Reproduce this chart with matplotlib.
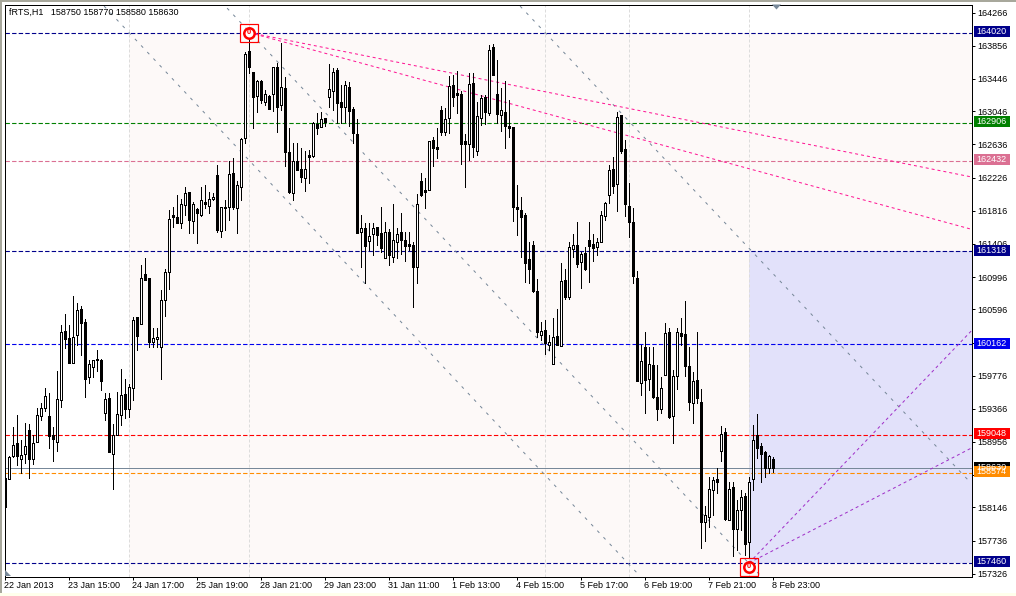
import matplotlib
matplotlib.use("Agg")
import matplotlib.pyplot as plt
from matplotlib.patches import Rectangle, Polygon
from matplotlib.transforms import ScaledTranslation, blended_transform_factory

plt.rcParams["font.family"] = ["Liberation Sans", "DejaVu Sans"]

# RTS H1 candles
opens = [158510,158500,158780,158940,158740,158810,159110,158740,158950,159280,
         159380,159280,159040,158960,159470,160330,160240,159930,160280,160600,
         160440,159760,159880,159980,159970,159320,159500,158810,159040,159290,
         159550,159360,159620,160500,160410,161030,160980,160190,160230,160130,
         160710,161060,161760,161740,161660,161890,162050,161690,161840,161760,
         161920,161870,161960,162260,161560,161860,161860,162280,161850,162110,
         162710,163790,163530,163230,163420,163160,163230,163260,163590,163120,
         163330,162540,162030,162430,162330,162220,162500,162490,162890,162850,
         162960,163220,163300,163560,163160,163100,163350,163070,162760,161550,
         161600,161440,161530,161610,161540,161230,161550,161250,161430,161550,
         161450,161400,161390,161120,162190,162070,162070,162690,162600,163060,
         162790,162960,163370,163270,163260,162680,162640,163390,162550,162960,
         163220,163020,163840,163260,163000,163040,162860,162850,161860,161820,
         161760,161220,161390,160820,160280,160340,160160,159920,160270,160140,
         160960,160750,161340,161390,161180,161290,161460,161400,161370,161430,
         161750,162010,162330,162150,163000,162580,161870,161680,160980,159680,
         160130,159730,159910,159510,159360,159780,160320,159280,159770,160300,
         160290,159890,159440,159720,159450,157960,158030,158360,158500,158850,
         159080,157990,158400,157880,158120,158290,157720,158500,159040,158900,
         158830,158630,158750]
highs = [158580,158780,159140,159290,158980,159190,159180,159040,159380,159440,
         159620,159560,159140,159830,160400,160540,160400,160760,160670,160640,
         160480,159970,159970,160090,159980,159560,159560,159180,159570,159860,
         159730,159670,160500,160500,161140,161230,160980,160360,160360,160830,
         161090,161820,161860,162010,161960,162110,162050,161920,161850,162110,
         162130,162050,162030,162380,161860,161950,162430,162470,162190,162710,
         163780,164010,163530,163430,163430,163310,163250,163600,163640,163890,
         163470,162840,162650,162650,162590,162550,162570,162910,163020,163040,
         162960,163630,163580,163580,163370,163420,163410,163100,162950,161760,
         161660,161660,161660,161610,161860,161680,161590,161900,161600,161790,
         161550,161550,161430,162020,162280,162220,162680,162730,162840,163110,
         163090,163480,163490,163540,163300,162760,163520,163520,163160,163250,
         163250,163860,163880,163680,163330,163420,163180,162850,162130,161980,
         161790,161430,161440,160970,160440,160460,160280,160490,160600,161170,
         161090,161430,161530,161680,161300,161370,161680,161530,161480,161810,
         161920,162380,162480,163040,163000,162690,162160,161850,161070,160160,
         160320,160130,160130,159910,159760,160430,160360,159840,160360,160490,
         160700,160130,159820,160320,159610,158170,158520,158520,158630,159150,
         159130,158460,158460,158240,158360,158320,158520,159170,159300,158940,
         158840,158800,158770]
lows = [158150,158500,158770,158670,158570,158690,158510,158680,158950,159230,
        159340,158880,158720,158840,159390,160120,159930,159930,160160,160030,
        159510,159690,159760,159830,159600,159230,158830,158370,159040,159170,
        159250,159260,159470,160090,160410,160960,160130,160130,160130,159730,
        160510,160850,161610,161660,161600,161760,161540,161540,161420,161750,
        161850,161790,161950,161550,161490,161580,161700,161840,161540,161950,
        162660,163520,162840,163040,163150,163120,163070,163050,162790,163060,
        162370,162030,161950,162320,162170,162060,162160,162480,162760,162850,
        162860,163100,163060,162900,162900,162910,162860,162660,161540,161120,
        160920,161330,161270,161390,161300,161230,161140,161180,161230,161280,
        161190,161330,160620,160920,162000,161850,162070,162370,162470,162750,
        162750,162780,163110,163020,162400,162110,162440,162480,162500,162880,
        162890,163000,163490,162900,162800,162590,162730,161690,161510,161240,
        160930,160920,160810,160250,160220,160050,160090,159920,160160,160140,
        160730,160730,161240,161120,160860,161080,160930,161190,161270,161430,
        161700,161910,162030,161810,162530,161750,161490,160920,159710,159540,
        159310,159600,159500,159230,159320,159780,159250,158940,159610,160160,
        159770,159350,159190,159440,157640,157730,157900,158050,158320,158720,
        157990,157990,157540,157620,157870,157560,157530,158360,158760,158460,
        158520,158570,158580]
closes = [158150,158770,158920,158780,158790,158910,158740,158940,159290,159380,
          159520,159030,158990,159490,160320,160230,159930,160250,160590,160430,
          159730,159920,159970,159970,159710,159490,158830,159040,159300,159540,
          159360,159630,160460,160270,160980,160960,160190,160240,160250,160710,
          161060,161710,161740,161660,161900,162030,161700,161900,161790,161950,
          161900,161960,161980,161580,161860,161850,162270,161860,162130,162700,
          163750,163590,163220,163420,163180,163260,163070,163600,163100,163350,
          162540,162050,162430,162320,162230,162330,162480,162900,162840,162950,
          162910,163320,163530,163150,163100,163370,163050,162780,161540,161600,
          161380,161500,161600,161510,161350,161550,161270,161460,161530,161450,
          161380,161380,161120,161900,162010,162050,162680,162590,162580,162790,
          162950,163360,163220,163250,162640,162640,163380,162600,162990,163210,
          163040,163800,163490,163010,163060,162860,162840,161860,161840,161740,
          161170,161090,160820,160320,160330,160180,160190,160250,160160,160950,
          160750,161370,161390,161160,161280,161090,161380,161350,161430,161760,
          161910,162320,162120,162970,162550,161900,161680,161010,159710,159960,
          159720,159920,159510,159360,159620,160300,159260,159770,160320,160270,
          159890,159450,159710,159500,157960,158050,158370,158480,158460,159060,
          158000,158380,157880,158110,158270,157690,158460,158980,158880,158810,
          158630,158780,158630]

# axis labels
date_ticks = [0, 16, 32, 48, 64, 80, 96, 112, 128, 144, 160, 176, 192]
date_labels = ["22 Jan 2013", "23 Jan 15:00", "24 Jan 17:00", "25 Jan 19:00", "28 Jan 21:00",
               "29 Jan 23:00", "31 Jan 11:00", "1 Feb 13:00", "4 Feb 15:00", "5 Feb 17:00",
               "6 Feb 19:00", "7 Feb 21:00", "8 Feb 23:00"]
price_ticks = [164266, 163856, 163446, 163046, 162636, 162226, 161816, 161406, 160996,
               160596, 160186, 159776, 159366, 158956, 158546, 158146, 157736, 157326]
# these two sit fully behind the price boxes
hidden_prices = [160186, 158546]

# horizontal levels and their colours
levels = [164020, 162906, 162432, 161318, 160162, 159048, 158574, 157460]
level_colors = ["#00008B", "#008000", "#DB7093", "#00008B", "#0000EE", "#FF0000", "#FF8C00", "#00008B"]
last_price = 158630
separators = [31, 61, 135, 156, 186]

# channel and fan lines, (bar, price) at both ends
channel_lines = [((24.75, 164347), (158.75, 157296)),
                 ((55.5, 164322), (188.75, 157308)),
                 ((128.75, 164347), (241.5, 158446))]
pink_fan = [((61, 164020), (241.5, 162235)),
            ((61, 164020), (241.5, 161588))]
purple_fan = [((186, 157460), (241.5, 160327)),
              ((186, 157460), (241.5, 158879))]
marks = [(61, 164020), (186, 157410)]

W, H = 1016, 596
LEFT, RIGHT, TOP, BOTTOM = 4.5, 971.5, 4.5, 576.5
PX = 0.72
YMIN, YMAX = 157292, 164367
XMIN, XMAX = -0.15, 241.6
FS = 6.5

fig = plt.figure(figsize=(W / 100, H / 100), dpi=100, facecolor="white")
ax = fig.add_axes([LEFT / W, 1 - BOTTOM / H, (RIGHT - LEFT) / W, (BOTTOM - TOP) / H])
ax.set_xlim(XMIN, XMAX)
ax.set_ylim(YMIN, YMAX)

# background zones
ax.add_patch(Rectangle((31, YMIN), XMAX - 31, 164020 - YMIN, fc="#FDF9F8", ec="none", zorder=0))
ax.add_patch(Rectangle((186, 157460), XMAX - 186, 161318 - 157460, fc="#E2E1FA", ec="none", zorder=0.1))

for s in separators:
    ax.axvline(s, color="#DCDCDC", lw=PX, dashes=(3, 2), zorder=0.5)
for lv, col in zip(levels, level_colors):
    ax.axhline(lv, color=col, lw=PX * 1.1, dashes=(4, 2), zorder=1)
ax.axhline(last_price, color="#778899", lw=PX, zorder=1)

for a, b in channel_lines:
    ax.plot([a[0], b[0]], [a[1], b[1]], color="#778899", lw=PX, dashes=(3, 6), zorder=1)
for a, b in pink_fan:
    ax.plot([a[0], b[0]], [a[1], b[1]], color="#FF1493", lw=PX, dashes=(3, 3), zorder=1)
for a, b in purple_fan:
    ax.plot([a[0], b[0]], [a[1], b[1]], color="#A030C8", lw=PX, dashes=(3, 3), zorder=1)

# candles
bars = list(range(len(opens)))
ax.vlines(bars, lows, highs, color="black", lw=PX, antialiased=False, zorder=2)
for i in bars:
    o, c = opens[i], closes[i]
    face = "white" if c > o else "black"
    ax.add_patch(Rectangle((i - 0.25, min(o, c)), 0.5, max(abs(c - o), 12), fc=face, ec="black",
                           lw=PX, snap=True, antialiased=False, zorder=3))

# red marks on the two extremes
for mx, my in marks:
    ax.plot(mx, my, marker="s", ms=13, mfc="none", mec="red", mew=PX * 1.2, zorder=4)
    ax.plot(mx, my, marker="o", ms=7.5, mfc="white", mec="red", mew=1.8, zorder=4)
    ax.text(mx, my, "0", color="red", fontsize=5.5, fontweight="bold", ha="center", va="center", zorder=5)

ax.text(4.5 / 966, 1 - 8 / 572, "fRTS,H1   158750 158770 158580 158630", transform=ax.transAxes,
        fontsize=FS, va="center", ha="left", zorder=6)

# axes look
for side in ax.spines:
    ax.spines[side].set_color("black")
    ax.spines[side].set_linewidth(PX)
    ax.spines[side].set_zorder(7)
ax.yaxis.tick_right()
ax.set_yticks(price_ticks)
ax.set_yticklabels(["" if p in hidden_prices else str(p) for p in price_ticks], fontsize=FS)
ax.set_xticks(date_ticks)
ax.set_xticklabels(date_labels, fontsize=FS, ha="left")
ax.tick_params(axis="y", length=2.2, width=PX, pad=2.2)
ax.tick_params(axis="x", length=2.2, width=PX, pad=1)
shift = ScaledTranslation(-1 / 100, 0, fig.dpi_scale_trans)
for lab in ax.get_xticklabels():
    lab.set_transform(lab.get_transform() + shift)

# price boxes on the right side
box_tr = blended_transform_factory(ax.transAxes, ax.transData)
bx0 = (973.5 - LEFT) / (RIGHT - LEFT)
bw = 36.5 / (RIGHT - LEFT)
for lv, col in [(last_price, "#000000")] + list(zip(levels, level_colors)):
    yc = lv + 12
    ax.add_patch(Rectangle((bx0, yc - 68), bw, 136, transform=box_tr, fc=col, ec="none",
                           clip_on=False, zorder=8))
    ax.text(bx0 + bw / 2, yc, str(lv), transform=box_tr, color="white", fontsize=FS, ha="center",
            va="center", clip_on=False, zorder=9)

# window edges and the small chart triangles, in pixels
def fx(x):
    return x / W

def fy(y):
    return 1 - y / H

fig.add_artist(Rectangle((0, fy(1.5)), 1, 1.5 / H, fc="#A8A89C", ec="none", transform=fig.transFigure))
fig.add_artist(Rectangle((0, 0), 1.5 / W, 1, fc="#A8A89C", ec="none", transform=fig.transFigure))
fig.add_artist(Rectangle((0, 0), 1, 3 / H, fc="#FFFFEC", ec="none", transform=fig.transFigure))
fig.add_artist(Polygon([(fx(772), fy(4.5)), (fx(781), fy(4.5)), (fx(776.5), fy(9.5))], closed=True,
                       fc="#778899", ec="none", transform=fig.transFigure))
fig.add_artist(Polygon([(fx(5), fy(570)), (fx(5), fy(576)), (fx(10.5), fy(576))], closed=True,
                       fc="#778899", ec="none", transform=fig.transFigure))

fig.savefig("out.png", dpi=100)
